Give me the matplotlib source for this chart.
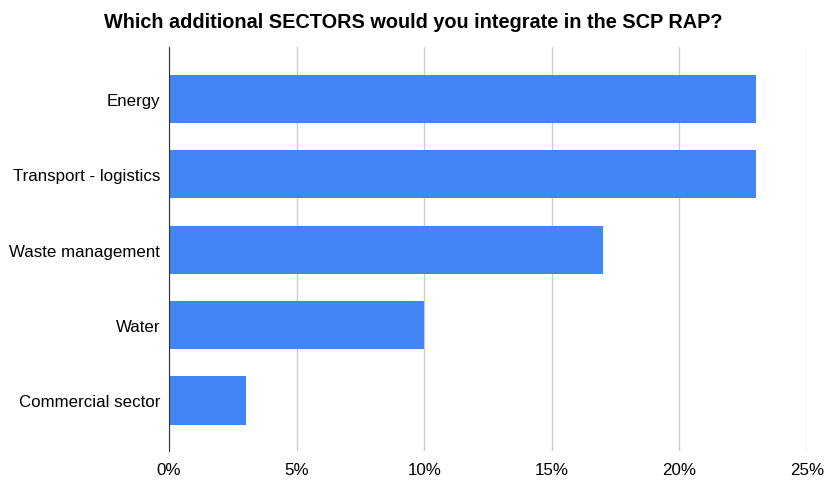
import matplotlib.pyplot as plt
from matplotlib.ticker import FuncFormatter

plt.rcParams['font.family'] = ['Liberation Sans', 'DejaVu Sans']

sectors = ["Energy", "Transport - logistics", "Waste management", "Water", "Commercial sector"]
shares = [23, 23, 17, 10, 3]
x_ticks = [0, 5, 10, 15, 20, 25]

fig = plt.figure(figsize=(8.26, 4.81), dpi=100)
ax = fig.add_axes([169 / 826, 1 - 452 / 481, (807 - 169) / 826, (452 - 48) / 481])

pos = list(range(len(sectors)))
ax.barh(pos, shares, height=0.64, color="#4285F4", zorder=2)

ax.set_xlim(0, 25)
ax.set_ylim(len(sectors) - 0.33, -0.69)
ax.set_yticks(pos)
ax.set_yticklabels(sectors, fontsize=12.2)
ax.set_xticks(x_ticks)
ax.xaxis.set_major_formatter(FuncFormatter(lambda v, _: f"{v:.0f}%"))
ax.tick_params(axis="x", labelsize=12.2, length=0, pad=8)
ax.tick_params(axis="y", length=0, pad=6.5)

ax.grid(axis="x", color="#cccccc", linewidth=1, zorder=0)
for side in ["top", "right", "bottom"]:
    ax.spines[side].set_visible(False)
ax.spines["left"].set_color("#333333")
ax.spines["left"].set_zorder(3)

fig.suptitle("Which additional SECTORS would you integrate in the SCP RAP?",
             fontsize=14.3, fontweight="bold", y=0.972)

fig.savefig("out.png", dpi=100)
